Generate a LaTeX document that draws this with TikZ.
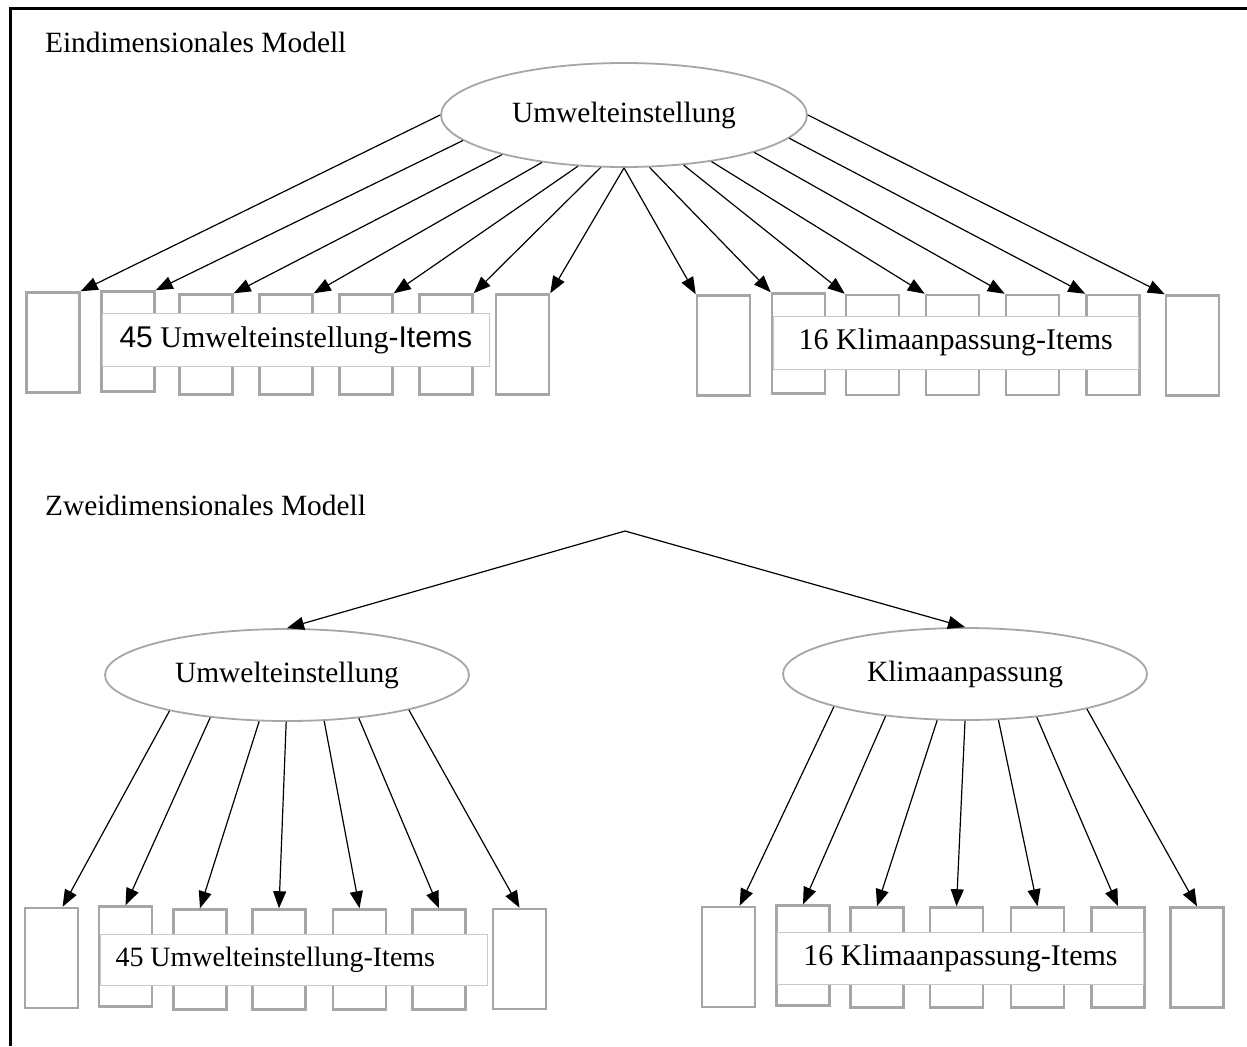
\documentclass[tikz,border=0pt]{standalone}
\usepackage{fontspec}
\setmainfont{Liberation Serif}
\setsansfont{Liberation Sans}
\usetikzlibrary{shapes.geometric,arrows.meta,calc}
\definecolor{boxgray}{RGB}{166,166,166}
\definecolor{linegray}{RGB}{200,200,200}

\begin{document}
\begin{tikzpicture}[x=0.5pt,y=-0.5pt,
	every node/.style={font=\fontsize{14.7}{17}\selectfont},
	itembox/.style={draw=boxgray,line width=1.25pt,fill=white,inner sep=0pt,minimum width=26.5pt,minimum height=50pt},
	itemtext/.style={draw=linegray,line width=0.4pt,fill=white,inner sep=0pt,minimum height=26.5pt,font=\fontsize{15}{17}\selectfont},
	factor/.style={ellipse,draw=boxgray,line width=0.9pt,fill=white,inner sep=0pt,minimum width=183pt,minimum height=52pt},
	arr/.style={-{Triangle[length=8.5pt,width=6.5pt]},line width=0.6pt}]
			\useasboundingbox (0,0) rectangle (1247,1046);
			\draw[line width=1.5pt] (10,1046) -- (10,8) -- (1247,8);
			
			\node[anchor=west] (title1) at (38,42) {Eindimensionales Modell};
			\node[factor] (E1) at (624,115) {Umwelteinstellung};
			
			\node[itembox] (a1) at (53,342.5) {};
			\node[itembox] (u1) at (128,341.5) {};
			\node[itembox] (u2) at (206,344.5) {};
			\node[itembox] (u3) at (286,344.5) {};
			\node[itembox] (u4) at (366,344.5) {};
			\node[itembox] (u5) at (446,344.5) {};
			\node[itembox] (a3) at (522.5,344.5) {};
			\node[itemtext,minimum width=193.25pt] (t1) at (295.75,340) {{\sffamily 45} Umwelteinstellung{\sffamily -Items}};
			
			\node[itembox] (r1) at (723.5,345.5) {};
			\node[itembox] (v1) at (798.5,343.5) {};
			\node[itembox] (v2) at (872.5,345) {};
			\node[itembox] (v3) at (952.5,345) {};
			\node[itembox] (v4) at (1032.5,345) {};
			\node[itembox] (v5) at (1113,345) {};
			\node[itembox] (r3) at (1192.5,345.5) {};
			\node[itemtext,minimum width=182.25pt] (t2) at (955.75,342.5) {16 Klimaanpassung-Items};
			
			\draw[arr] (E1.180) -- (a1.north east);
			\draw[arr] (E1.189) -- (u1.north east);
			\draw[arr] (E1.198) -- (u2.north east);
			\draw[arr] (E1.210) -- (u3.north east);
			\draw[arr] (E1.228) -- (u4.north east);
			\draw[arr] (E1.246) -- (u5.north east);
			\draw[arr] (E1.270) -- (a3.north east);
			\draw[arr] (E1.270) -- (r1.north west);
			\draw[arr] (E1.296) -- (v1.north west);
			\draw[arr] (E1.320) -- (v2.north west);
			\draw[arr] (E1.332) -- (v3.north west);
			\draw[arr] (E1.344) -- (v4.north west);
			\draw[arr] (E1.352) -- (v5.north west);
			\draw[arr] (E1.0) -- (r3.north west);
			
			\node[anchor=west] (title2) at (38,505) {Zweidimensionales Modell};
			\coordinate (apex) at (625,531);
			\node[factor,minimum width=182pt,minimum height=46pt] (E2) at (287,675) {Umwelteinstellung};
			\node[factor,minimum width=182pt,minimum height=46pt] (E3) at (965,674) {Klimaanpassung};
			\draw[arr] (apex) -- (E2.north);
			\draw[arr] (apex) -- (E3.north);
			
			\node[itembox] (b1) at (51.5,958) {};
			\node[itembox] (w1) at (125.5,956.5) {};
			\node[itembox] (w2) at (200,959.5) {};
			\node[itembox] (w3) at (279,959.5) {};
			\node[itembox] (w4) at (359.5,959.5) {};
			\node[itembox] (w5) at (439,959.5) {};
			\node[itembox] (b3) at (519.5,959) {};
			\node[itemtext,minimum height=25.5pt,font=\fontsize{14}{16}\selectfont] (t3) at (294,959.5) {\makebox[193.5pt][l]{\hspace*{7.5pt}45 Umwelteinstellung-Items}};
			
			\node[itembox] (c1) at (728.5,957) {};
			\node[itembox] (z1) at (803,955.5) {};
			\node[itembox] (z2) at (877,957.5) {};
			\node[itembox] (z3) at (956.5,957.5) {};
			\node[itembox] (z4) at (1037.5,957.5) {};
			\node[itembox] (z5) at (1118,957.5) {};
			\node[itembox] (c3) at (1197,957.5) {};
			\node[itemtext,minimum width=183pt,minimum height=26pt] (t4) at (960.5,958) {16 Klimaanpassung-Items};
			
			\draw[arr] (E2.197) -- ($(b1.north)!0.4!(b1.north east)$);
			\draw[arr] (E2.209) -- (w1.north);
			\draw[arr] (E2.239) -- (w2.north);
			\draw[arr] (E2.269) -- (w3.north);
			\draw[arr] (E2.309) -- (w4.north);
			\draw[arr] (E2.329) -- (w5.north);
			\draw[arr] (E2.344) -- (b3.north);
			
			\draw[arr] (E3.194) -- ($(c1.north)!0.4!(c1.north east)$);
			\draw[arr] (E3.208) -- (z1.north);
			\draw[arr] (E3.239) -- (z2.north);
			\draw[arr] (E3.270) -- (z3.north);
			\draw[arr] (E3.306) -- (z4.north);
			\draw[arr] (E3.329) -- (z5.north);
			\draw[arr] (E3.344) -- (c3.north);
\end{tikzpicture}
\end{document}
